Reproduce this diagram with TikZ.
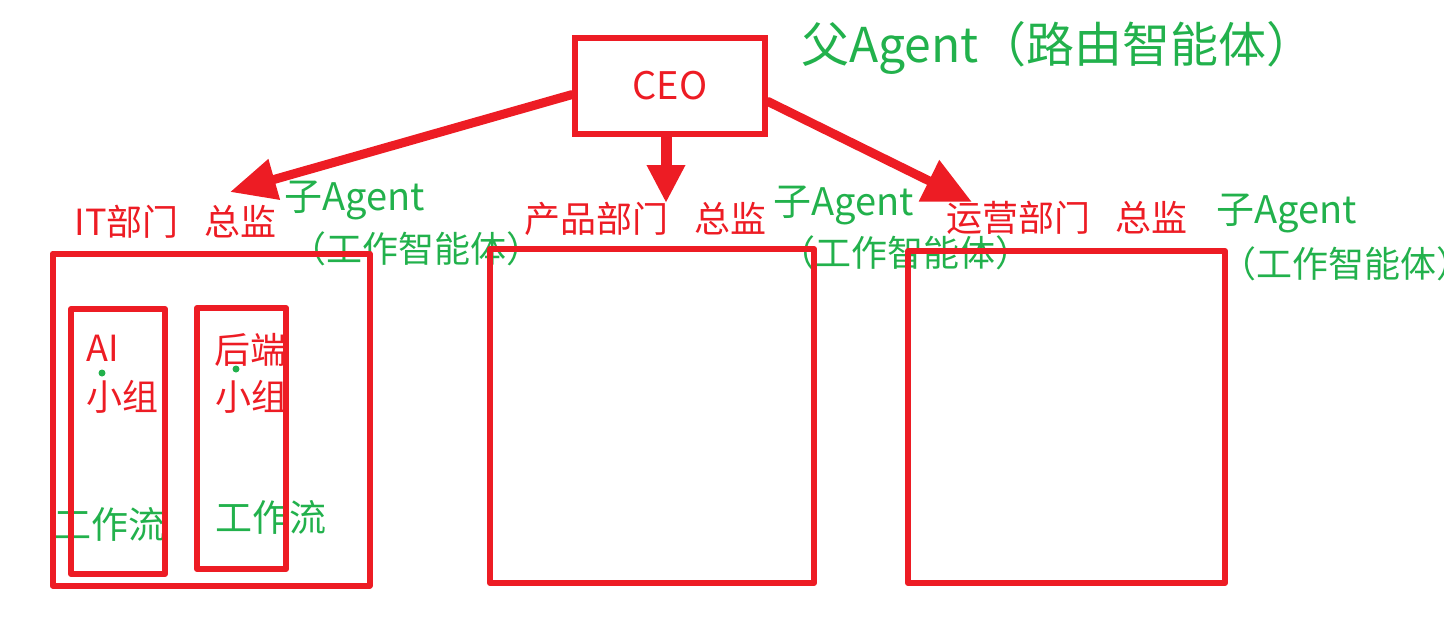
\documentclass[tikz,border=0pt]{standalone}
\usepackage{fontspec}
\setmainfont{Noto Sans CJK SC}
\usetikzlibrary{arrows.meta,calc}
\definecolor{pred}{RGB}{237,28,36}
\definecolor{pgreen}{RGB}{34,177,76}
\tikzset{
  wbox/.style={draw=pred,line width=6pt,line join=round},
  bigarr/.style={-{Triangle[length=46pt,width=40pt]},draw=pred,line width=9pt,line cap=round},
  redlbl/.style={text=pred,inner sep=0pt,font=\fontsize{36}{40}\selectfont},
  grnlbl/.style={text=pgreen,inner sep=0pt,font=\fontsize{36}{40}\selectfont},
  sublbl/.style={grnlbl,font=\fontsize{38}{42}\selectfont},
  gdot/.style={circle,fill=pgreen,inner sep=0pt,minimum size=7pt},
}
\begin{document}
\begin{tikzpicture}[x=1pt,y=-1pt]
  \useasboundingbox (0,0) rectangle (1444,619);
  % parent agent
  \node[redlbl,draw=pred,line width=6pt,minimum width=190pt,minimum height=96pt,
    font=\fontsize{38}{40}\selectfont] (ceo) at (670,86) {CEO};
  \node[grnlbl,font=\fontsize{48}{52}\selectfont] (parent) at (1058,48) {父Agent（路由智能体）};
  % department labels
  \node[redlbl] (itlbl) at (175.5,222) {IT部门\hspace{0.7em}总监};
  \node[sublbl] (itsub) at (355,200) {子Agent};
  \node[grnlbl] (itrole) at (416,249) {（工作智能体）};
  \node[redlbl] (prodlbl) at (645.5,219) {产品部门\hspace{0.7em}总监};
  \node[sublbl] (prodsub) at (843.5,205) {子Agent};
  \node[grnlbl] (prodrole) at (905,253) {（工作智能体）};
  \node[redlbl] (opslbl) at (1067,218) {运营部门\hspace{0.7em}总监};
  \node[sublbl] (opssub) at (1287,213) {子Agent};
  \node[grnlbl] (opsrole) at (1346,264) {（工作智能体）};
  % IT groups
  \node[redlbl,anchor=west] (ailbl) at (86,348) {AI};
  \node[redlbl,anchor=west] (aigrp) at (86,397) {小组};
  \node[gdot] (aidot) at (102,373) {};
  \node[redlbl,anchor=west] (belbl) at (214,350) {后端};
  \node[redlbl,anchor=west] (begrp) at (215,397) {小组};
  \node[gdot] (bedot) at (236,369) {};
  \node[grnlbl,font=\fontsize{37}{40}\selectfont] (aiflow) at (109.5,524) {工作流};
  \node[grnlbl,font=\fontsize{37}{40}\selectfont] (beflow) at (271,517) {工作流};
  % boxes
  \draw[wbox] (52.5,253.5) rectangle (369.5,585.5);
  \draw[wbox] (71,309) rectangle (165,574);
  \draw[wbox] (197,308) rectangle (286,569);
  \draw[wbox] (490,249) rectangle (814,583);
  \draw[wbox] (908,251) rectangle (1225,583);
  % arrows to the directors
  \coordinate (itTip) at (230,192);
  \coordinate (prodTip) at (666,203);
  \coordinate (opsTip) at (972,202);
  \draw[bigarr] (ceo.185) -- (itTip);
  \draw[bigarr,line width=11pt,-{Triangle[length=38pt,width=36pt]}] (ceo.south -| prodTip) -- (prodTip);
  \draw[bigarr,-{Triangle[length=48pt,width=44pt]}] (ceo.-9) -- (opsTip);
\end{tikzpicture}
\end{document}
